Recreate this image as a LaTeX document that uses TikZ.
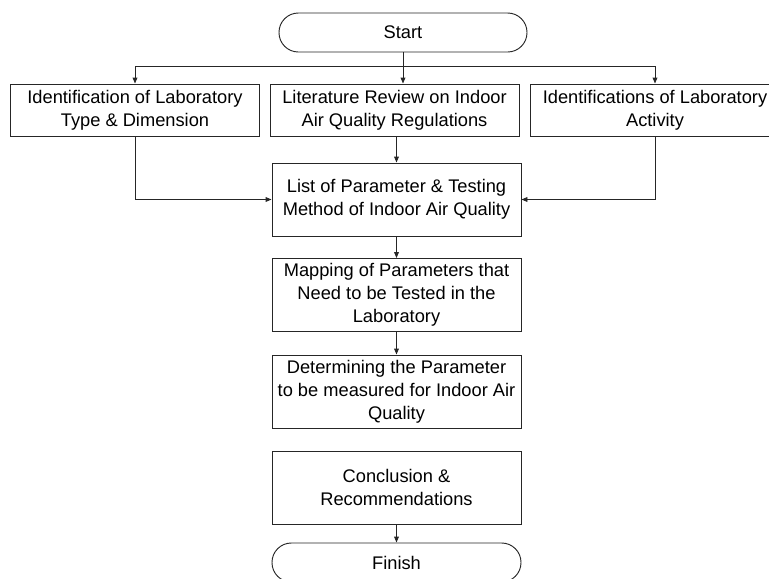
\documentclass[tikz,border=0pt]{standalone}
\usepackage{fontspec}
\setmainfont{Liberation Sans}
\usetikzlibrary{arrows.meta}
\begin{document}
\begin{tikzpicture}[x=0.75pt,y=-0.75pt,->,>={Triangle[length=4.5pt,width=3.6pt]},line width=0.7pt,draw=black!85]
    \tikzstyle{every node}=[font=\fontsize{13.7}{17.2}\selectfont]
    \tikzstyle{process}=[rectangle,draw,align=center,minimum width=186.75pt,minimum height=54.75pt,inner sep=0pt]
    \tikzstyle{terminal}=[rectangle,draw,rounded corners=14.5pt,minimum width=186pt,minimum height=29.25pt,inner sep=0pt]

    \clip (0,0) rectangle (769,579);

    \node[terminal] (start) at (403,32.5) {Start};
    \coordinate (fork) at (403,66);

    \node[process, minimum height=39pt] (lab) at (135,110) {Identification of Laboratory\\Type \& Dimension};
    \node[process, minimum height=39pt] (lit) at (394.5,110) {Literature Review on Indoor\\Air Quality Regulations};
    \node[process, minimum height=39pt] (act) at (655,110) {Identifications of Laboratory\\Activity};

    \node[process] (list) at (396.5,199.5) {List of Parameter \& Testing\\Method of Indoor Air Quality};
    \node[process] (map) at (396.5,295) {Mapping of Parameters that\\Need to be Tested in the\\Laboratory};
    \node[process] (det) at (396.5,391.5) {Determining the Parameter\\to be measured for Indoor Air\\Quality};
    \node[process] (con) at (396.5,487.5) {Conclusion \&\\Recommendations};
    \node[terminal, minimum width=186.75pt] (finish) at (396.5,562.5) {Finish};

    \draw (start.south) -- (start.south |- lit.north);
    \draw (fork) -| (lab);
    \draw (fork) -| (act);
    \draw (lab) |- (list);
    \draw (act) |- (list);
    \draw (list.north |- lit.south) -- (list.north);
    \foreach \src/\dst in {list/map,map/det,con/finish}
    \draw (\src) -- (\dst);
  \end{tikzpicture}
\end{document}
